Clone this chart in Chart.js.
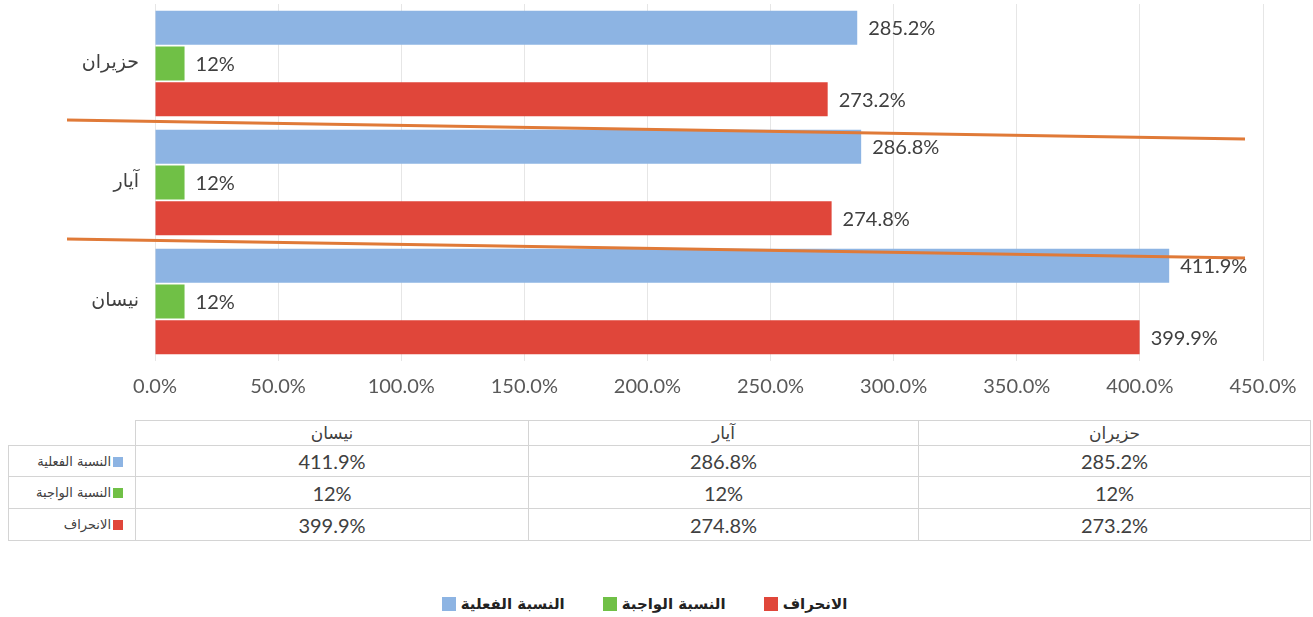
<!DOCTYPE html>
<html lang="ar">
<head>
<meta charset="utf-8">
<title>النسبة الفعلية والواجبة والانحراف</title>
<script src="https://cdn.jsdelivr.net/npm/chart.js@4/dist/chart.umd.min.js"></script>
<style>
  html, body { margin: 0; padding: 0; background: #fff; }
  #wrap { position: relative; width: 1313px; height: 617px; overflow: hidden; color: #404040; font-family: Lato, "DejaVu Sans", sans-serif; }
  #chartBox { position: absolute; left: 0; top: 0; width: 1313px; height: 418px; }
  #dataTable { position: absolute; left: 8px; top: 420px; border-collapse: collapse; table-layout: fixed; }
  #dataTable td { border: 1px solid #d4d4d4; text-align: center; padding: 0; font-size: 20px; }
  #dataTable td.blank { border-top: none; border-left: none; }
  #dataTable td.head { font-family: "DejaVu Sans", sans-serif; font-size: 17px; }
  #dataTable td.series { text-align: right; font-family: "DejaVu Sans", sans-serif; font-size: 13px; padding-right: 12px; white-space: nowrap; }
  .swatch { display: inline-block; width: 10px; height: 10px; margin-left: 2px; vertical-align: -1px; }
  #legend { position: absolute; left: -12px; top: 595px; width: 1313px; display: flex; justify-content: center; gap: 38px; font-family: "DejaVu Sans", sans-serif; font-weight: bold; font-size: 15px; color: #222; }
  #legend .item { display: flex; align-items: center; gap: 5px; }
  #legend .box { width: 14px; height: 14px; }
</style>
</head>
<body>
<div id="wrap">
  <div id="chartBox"><canvas id="chart"></canvas></div>
  <table id="dataTable"></table>
  <div id="legend"></div>
</div>
<script>
// months in the order of the data table (bottom to top in the chart)
const months = ["نيسان", "آيار", "حزيران"];
const seriesNames = ["النسبة الفعلية", "النسبة الواجبة", "الانحراف"];
const actualRate = [411.9, 286.8, 285.2];
const requiredRate = [12, 12, 12];
const deviation = [399.9, 274.8, 273.2];
const seriesColors = ["#8db4e3", "#70c046", "#e0463a"];
const xMax = 450;
const xStep = 50;

const seriesValues = [actualRate, requiredRate, deviation];

function fmt(v) {
    return Number.isInteger(v) ? v + "%" : v.toFixed(1) + "%";
}

const valueLabels = {
    id: "valueLabels",
    afterDatasetsDraw(chart) {
        const ctx = chart.ctx;
        ctx.save();
        ctx.font = "20px Lato";
        ctx.fillStyle = "#404040";
        ctx.textBaseline = "middle";
        chart.data.datasets.forEach((ds, i) => {
            chart.getDatasetMeta(i).data.forEach((bar, j) => {
                ctx.fillText(fmt(ds.data[j]), bar.x + 11, bar.y + 1);
            });
        });
        ctx.restore();
    }
};

// hand drawn orange lines between the month groups
const separators = {
    id: "separators",
    afterDraw(chart) {
        const y = chart.scales.y;
        const area = chart.chartArea;
        const ctx = chart.ctx;
        ctx.save();
        ctx.strokeStyle = "#e07a38";
        ctx.lineWidth = 3;
        for (let i = 0; i < months.length - 1; i++) {
            const mid = (y.getPixelForValue(i) + y.getPixelForValue(i + 1)) / 2;
            ctx.beginPath();
            ctx.moveTo(area.left - 88, mid - 3);
            ctx.lineTo(area.right - 18, mid + 16);
            ctx.stroke();
        }
        ctx.restore();
    }
};

const ctx = document.getElementById("chart").getContext("2d");
new Chart(ctx, {
    type: "bar",
    data: {
        labels: months,
        datasets: seriesNames.map((name, i) => ({
            label: name,
            data: seriesValues[i],
            backgroundColor: seriesColors[i],
            borderWidth: 0,
            barPercentage: 0.95,
            categoryPercentage: 0.9,
        }))
    },
    options: {
        indexAxis: "y",
        responsive: true,
        maintainAspectRatio: false,
        animation: false,
        layout: { padding: { top: 4, right: 50, bottom: 5, left: 0 } },
        plugins: {
            legend: { display: false },
            tooltip: { enabled: false },
        },
        scales: {
            x: {
                min: 0,
                max: xMax,
                grid: { color: "#e6e6e6", drawTicks: false },
                border: { display: false },
                ticks: {
                    stepSize: xStep,
                    padding: 14,
                    color: "#595959",
                    font: { family: "Lato", size: 20 },
                    callback: (v) => v.toFixed(1) + "%",
                }
            },
            y: {
                reverse: true,
                grid: { display: false },
                border: { display: false },
                ticks: {
                    padding: 8,
                    color: "#404040",
                    font: { family: "DejaVu Sans", size: 19 },
                },
                afterFit: (scale) => {
                    scale.width = 155;
                    scale.paddingTop = 0;
                    scale.paddingBottom = 0;
                }
            }
        }
    },
    plugins: [valueLabels, separators]
});

// data table under the chart
const table = document.getElementById("dataTable");
const colWidths = [127, 393, 390, 392];
const cg = document.createElement("colgroup");
colWidths.forEach(w => {
    const c = document.createElement("col");
    c.style.width = w + "px";
    cg.appendChild(c);
});
table.appendChild(cg);

const head = document.createElement("tr");
head.style.height = "25px";
head.innerHTML = '<td class="blank"></td>' + months.map(m => `<td class="head">${m}</td>`).join("");
table.appendChild(head);

seriesNames.forEach((name, i) => {
    const tr = document.createElement("tr");
    tr.style.height = i === 0 ? "31px" : "32px";
    tr.innerHTML = `<td class="series">${name}<span class="swatch" style="background:${seriesColors[i]}"></span></td>` +
        seriesValues[i].map(v => `<td>${fmt(v)}</td>`).join("");
    table.appendChild(tr);
});

const legend = document.getElementById("legend");
seriesNames.forEach((name, i) => {
    const item = document.createElement("div");
    item.className = "item";
    item.innerHTML = `<span class="box" style="background:${seriesColors[i]}"></span><span>${name}</span>`;
    legend.appendChild(item);
});
</script>
</body>
</html>
